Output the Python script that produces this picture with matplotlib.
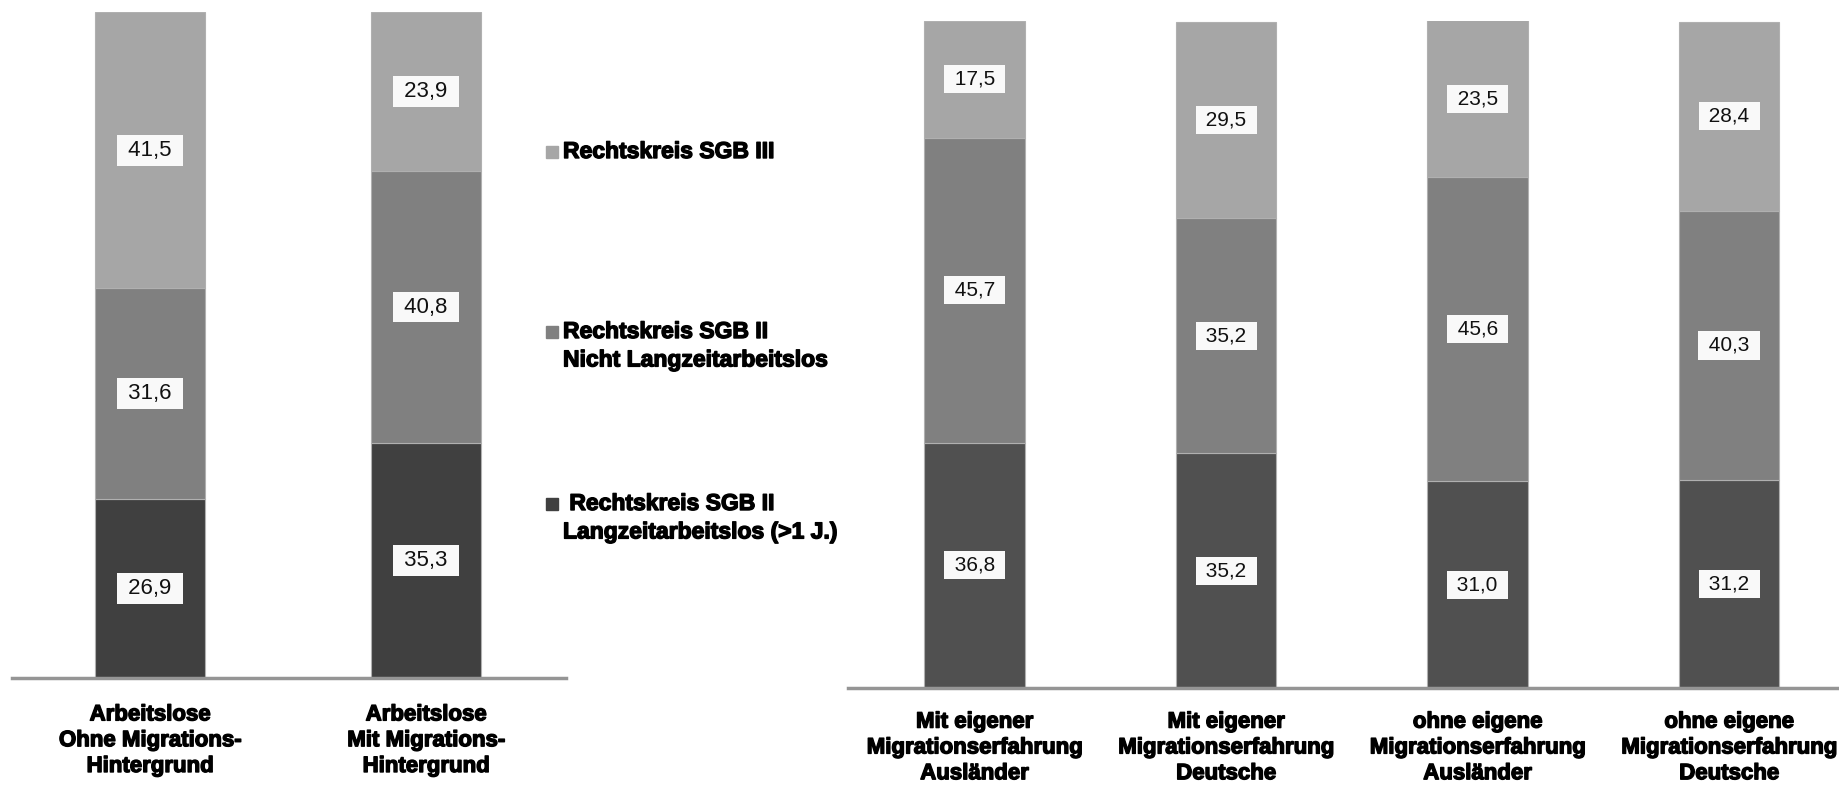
import matplotlib
matplotlib.use("Agg")
import matplotlib.pyplot as plt
import matplotlib.patheffects as pe
from matplotlib.patches import Rectangle
import numpy as np

plt.rcParams['font.family'] = ['Liberation Sans', 'DejaVu Sans']

# Anteile in Prozent je Rechtskreis
left_cats = ['Arbeitslose\nOhne Migrations-\nHintergrund',
             'Arbeitslose\nMit Migrations-\nHintergrund']
left_lzal = [26.9, 35.3]
left_nlzal = [31.6, 40.8]
left_sgb3 = [41.5, 23.9]

right_cats = ['Mit eigener\nMigrationserfahrung\nAusländer',
              'Mit eigener\nMigrationserfahrung\nDeutsche',
              'ohne eigene\nMigrationserfahrung\nAusländer',
              'ohne eigene\nMigrationserfahrung\nDeutsche']
right_lzal = [36.8, 35.2, 31.0, 31.2]
right_nlzal = [45.7, 35.2, 45.6, 40.3]
right_sgb3 = [17.5, 29.5, 23.5, 28.4]

legend_labels = ['Rechtskreis SGB III',
                 'Rechtskreis SGB II\nNicht Langzeitarbeitslos',
                 ' Rechtskreis SGB II\nLangzeitarbeitslos (>1 J.)']

c_light = '#a6a6a6'
c_mid = '#808080'
c_dark_l = '#404040'
c_dark_r = '#505050'

bold = [pe.withStroke(linewidth=1.0, foreground='black')]

fig = plt.figure(figsize=(18.39, 7.89), dpi=100)


def stacked(ax, cats, series, colors, fs, pad):
    x = np.arange(len(cats))
    bottom = np.zeros(len(cats))
    for vals, col in zip(series, colors):
        vals = np.array(vals)
        ax.bar(x, vals, 0.4, bottom=bottom, color=col, edgecolor='#b0b0b0', linewidth=0.8)
        for xi, b, v in zip(x, bottom, vals):
            ax.text(xi, b + v / 2, ' ' + f'{v:.1f}'.replace('.', ',') + ' ',
                    ha='center', va='center', fontsize=fs, color='#111111',
                    bbox=dict(boxstyle='square,pad=0.22', fc='#f9f9f9', ec='none'))
        bottom = bottom + vals
    ax.set_ylim(0, 100)
    ax.set_xticks(x)
    ax.set_xticklabels(cats, fontsize=16, fontweight='bold', linespacing=1.3)
    for t in ax.get_xticklabels():
        t.set_path_effects(bold)
    ax.tick_params(axis='x', length=0, pad=pad)
    ax.set_yticks([])
    for s in ['top', 'left', 'right']:
        ax.spines[s].set_visible(False)
    ax.spines['bottom'].set_color('#959595')
    ax.spines['bottom'].set_linewidth(2.5)


ax1 = fig.add_axes([12 / 1839, 111 / 789, 554 / 1839, 666 / 789])
stacked(ax1, left_cats, [left_lzal, left_nlzal, left_sgb3], [c_dark_l, c_mid, c_light], 16, 19)
ax1.set_xlim(-0.5, 1.507)

ax2 = fig.add_axes([848 / 1839, 101 / 789, 991 / 1839, 667 / 789])
stacked(ax2, right_cats, [right_lzal, right_nlzal, right_sgb3], [c_dark_r, c_mid, c_light], 15, 17)
ax2.set_xlim(-0.503, 3.437)

# Legende zwischen den beiden Diagrammen
leg_y = [152, 332, 504]
leg_cols = [c_light, c_mid, c_dark_l]
for y, lab, col in zip(leg_y, legend_labels, leg_cols):
    fig.patches.append(Rectangle((546 / 1839, 1 - (y + 6) / 789), 12 / 1839, 12 / 789,
                                 transform=fig.transFigure, color=col))
    t = fig.text(563 / 1839, 1 - (y - 12) / 789, lab, fontsize=16.5, fontweight='bold',
                 va='top', ha='left', linespacing=1.3)
    t.set_path_effects(bold)

fig.savefig('out.png', dpi=100)
